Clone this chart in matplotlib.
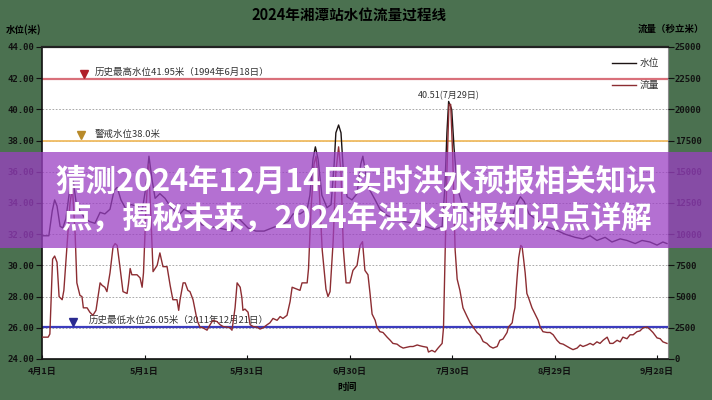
import matplotlib
matplotlib.use("Agg")
import matplotlib.pyplot as plt
from matplotlib.patches import Rectangle
from matplotlib.lines import Line2D

CJK = ["Noto Sans CJK SC", "DejaVu Sans"]
plt.rcParams["font.family"] = CJK

# ---- data: days counted from 4月1日 ----
level_days = [0, 2, 3.0, 3.7, 4.4, 5.3, 6.1, 7.0, 8.2, 9.1,
              10.0, 11.1, 12.6, 14.0, 15.5, 17.0, 18.4, 19.9, 21.1, 22.0,
              23.1, 24.6, 26.0, 27.8, 29.3, 30.4, 31.3, 32.2, 33.1, 34.5,
              36.0, 37.5, 39.2, 40.4, 41.6, 43.3, 45.1, 46.8, 49.2, 51.5,
              53.9, 55.6, 57.1, 58.5, 60.3, 62.6, 65.0, 67.3, 69.7, 72.0,
              73.5, 75.5, 77.6, 78.4, 79.3, 80.0, 80.8, 81.9, 83.4, 84.6,
              85.5, 86.0, 86.8, 87.5, 88.2, 89.3, 90.7, 92.2, 93.3, 93.9,
              94.8, 96.0, 97.5, 98.9, 101.0, 103.3, 106.2, 109.2, 112.1, 115.0,
              117.1, 117.9, 118.5, 119.0, 119.9, 120.6, 121.5, 122.9, 125.3, 128.2,
              131.1, 134.0, 136.4, 137.8, 139.0, 140.0, 141.1, 142.5, 144.3, 147.2,
              150.1, 153.1, 156.0, 158.3, 160.4, 162.4, 164.8, 166.8, 169.2, 171.2,
              173.6, 175.6, 177.9, 180.0, 181.7, 182.9]
level_values = [31.9, 31.9, 33.5, 34.2, 33.8, 32.5, 32.4, 33.0, 35.0, 35.5,
                34.0, 33.5, 33.0, 32.8, 32.7, 33.4, 33.3, 33.6, 34.8, 35.0,
                34.2, 33.6, 33.9, 33.8, 33.5, 35.0, 37.0, 35.5, 34.3, 34.6,
                34.3, 33.8, 33.4, 33.3, 33.6, 33.4, 33.0, 32.6, 32.5, 32.4,
                32.3, 32.2, 33.1, 32.8, 32.4, 32.2, 32.2, 32.4, 32.6, 32.8,
                33.3, 33.3, 33.6, 34.5, 36.8, 37.6, 36.8, 34.5, 33.7, 33.9,
                36.5, 38.5, 39.0, 38.5, 36.0, 34.4, 34.2, 34.6, 36.5, 37.0,
                35.8, 34.8, 34.2, 33.6, 33.2, 33.0, 32.8, 32.7, 32.5, 32.3,
                32.5, 35.0, 38.5, 40.51, 40.0, 37.5, 35.0, 34.0, 33.4, 33.0,
                32.8, 32.7, 32.8, 33.2, 34.0, 34.4, 34.1, 33.3, 33.0, 32.5,
                32.3, 32.0, 31.8, 31.7, 31.9, 31.6, 31.8, 31.5, 31.7, 31.6,
                31.4, 31.6, 31.5, 31.3, 31.5, 31.4]

flow_days = [0, 1.8, 2.3, 3.1, 3.7, 4.4, 5.0, 5.9, 6.4, 7.3,
             8.2, 8.9, 9.7, 10.2, 11.1, 11.7, 12.1, 13.2, 14.0, 14.9,
             15.8, 17.0, 17.6, 18.4, 19.0, 19.9, 20.8, 21.4, 22.0, 22.8,
             23.7, 24.9, 25.3, 25.8, 26.3, 27.8, 28.7, 29.3, 29.7, 30.4,
             31.2, 31.9, 32.5, 33.1, 33.7, 34.5, 35.4, 36.6, 37.5, 38.3,
             39.5, 40.0, 40.4, 41.3, 41.9, 42.7, 43.3, 44.2, 45.4, 46.2,
             47.1, 48.3, 49.2, 50.0, 51.2, 52.1, 53.0, 54.1, 55.0, 55.6,
             56.5, 57.1, 58.0, 58.5, 58.8, 59.4, 60.3, 60.9, 61.8, 62.9,
             63.8, 64.7, 65.9, 66.7, 67.6, 68.8, 69.7, 70.5, 71.7, 72.6,
             73.2, 74.6, 75.5, 76.1, 77.6, 78.0, 78.7, 79.6, 80.2, 81.1,
             82.0, 83.1, 83.7, 84.3, 85.2, 86.0, 86.8, 87.5, 88.2, 89.0,
             90.1, 91.0, 92.2, 93.1, 93.8, 94.5, 95.4, 96.0, 96.6, 97.5,
             98.0, 98.9, 99.8, 101.0, 101.9, 102.7, 103.9, 104.8, 105.7, 106.8,
             107.7, 108.6, 109.8, 110.6, 111.5, 112.7, 113.1, 114.1, 115.0, 115.9,
             117.1, 117.5, 117.9, 118.5, 119.1, 119.6, 120.2, 120.9, 121.5, 122.3,
             123.2, 124.4, 125.3, 126.1, 127.3, 128.2, 129.1, 130.2, 131.1, 132.0,
             133.2, 134.0, 134.9, 136.1, 136.5, 137.6, 138.0, 138.4, 139.0, 139.5,
             140.1, 140.5, 140.9, 141.4, 141.9, 142.4, 143.4, 144.3, 145.2, 145.8,
             146.6, 147.8, 148.7, 149.6, 150.7, 151.6, 152.5, 153.7, 154.5, 155.4,
             156.6, 157.5, 158.3, 159.5, 160.4, 161.3, 162.4, 163.3, 164.2, 165.4,
             166.2, 167.1, 168.3, 169.2, 170.0, 171.2, 172.1, 173.0, 174.1, 175.0,
             175.9, 177.1, 177.9, 178.8, 180.0, 180.9, 181.7, 182.9]
flow_values = [1750, 1750, 2000, 8000, 8250, 7750, 5000, 4750, 5500, 9000,
               12500, 13750, 10000, 6100, 5100, 5000, 4100, 4100, 3750, 3500,
               3900, 6100, 5900, 5750, 5400, 6900, 9000, 9250, 9100, 7400,
               5400, 5250, 6000, 7250, 6750, 6750, 6500, 5750, 6900, 11900,
               15600, 11250, 7000, 7250, 7500, 8500, 7400, 7400, 5900, 4750,
               4750, 3900, 4750, 6100, 6100, 5500, 5400, 4750, 3100, 2560,
               2500, 2310, 2750, 3100, 3000, 2750, 2600, 2560, 2500, 2310,
               4100, 6100, 5750, 4900, 3900, 4000, 3750, 2750, 2600, 2560,
               2400, 2500, 2750, 2900, 3250, 3100, 3400, 3250, 3500, 4600,
               5750, 5600, 5500, 6100, 6100, 7250, 11900, 15600, 16250, 13750,
               8750, 5600, 5000, 5400, 9400, 15000, 17000, 15000, 8750, 6100,
               6100, 7100, 7500, 9100, 9400, 7100, 6750, 5250, 3600, 3100,
               2560, 2190, 2125, 1750, 1500, 1250, 1190, 1000, 875, 940,
               1000, 1000, 1125, 1060, 1000, 940, 560, 690, 560, 875,
               1250, 2500, 7500, 15000, 20400, 20400, 16250, 8750, 6400, 5500,
               4100, 3400, 2900, 2600, 2125, 1900, 1400, 1250, 1000, 875,
               1000, 1500, 1600, 2125, 2560, 2900, 3600, 4100, 6400, 8100,
               9100, 9000, 8100, 6900, 5250, 4900, 4100, 3600, 3100, 2560,
               2190, 2125, 2125, 1940, 1500, 1250, 1190, 1000, 875, 750,
               875, 1125, 1000, 1125, 1250, 1125, 1375, 1250, 1500, 1750,
               1250, 1250, 1500, 1375, 1750, 1625, 1940, 1940, 2190, 2250,
               2500, 2560, 2375, 2125, 1690, 1625, 1375, 1250]

x_ticks = [0, 30, 60, 90, 120, 150, 180]
x_tick_labels = ["4月1日", "5月1日", "5月31日", "6月30日", "7月30日", "8月29日", "9月28日"]
level_ticks = [24, 26, 28, 30, 32, 34, 36, 38, 40, 42, 44]
flow_ticks = [0, 2500, 5000, 7500, 10000, 12500, 15000, 17500, 20000, 22500, 25000]

record_high = 41.95
warning_level = 38.0
record_low = 26.05
peak_day, peak_level = 119.0, 40.51

title = "2024年湘潭站水位流量过程线"
banner_lines = ["猜测2024年12月14日实时洪水预报相关知识",
                "点，揭秘未来，2024年洪水预报知识点详解"]

# ---- figure ----
W, H = 712, 400
BG = "#4b7150"
fig = plt.figure(figsize=(W / 100, H / 100), dpi=100, facecolor=BG)


def fx(px):
    return px / W


def fy(py):
    return 1 - py / H


ax = fig.add_axes([fx(42), fy(359), (668 - 42) / W, (359 - 47) / H])
ax.set_facecolor("white")
ax.set_xlim(0, 183.2)
ax.set_ylim(24, 44)

ax.set_yticks(level_ticks)
ax.set_yticklabels([f"{v:.2f}" for v in level_ticks],
                   family="DejaVu Sans Mono", fontweight="bold", fontsize=6.5)
ax.set_xticks(x_ticks)
ax.set_xticklabels(x_tick_labels, fontweight="bold", fontsize=6.5)
ax.tick_params(axis="y", direction="out", length=4, width=0.8, pad=1.5, colors="#111")
ax.tick_params(axis="x", direction="in", length=3, width=0.8, pad=6, colors="#111")
ax.grid(axis="y", color="#9a9a9a", linestyle=(0, (2, 2)), linewidth=0.6)
ax.set_axisbelow(True)

for side, col, lw in [("top", "#222222", 1.6), ("left", "#111111", 1.2),
                      ("bottom", "#111111", 1.2), ("right", "#8a8a8a", 0.8)]:
    ax.spines[side].set_color(col)
    ax.spines[side].set_linewidth(lw)

# reference levels
ax.axhline(record_high, color="#d9707a", lw=1.6, zorder=2)
ax.axhline(warning_level, color="#f0bc62", lw=1.3, zorder=2)
ax.axhline(record_low, color="#3c3cbe", lw=1.6, zorder=2)

note_kw = dict(fontsize=6.8, color="#333333", va="center", zorder=1)
ax.plot([12.3], [record_high + 0.3], marker="v", ms=6, color="#b0202a", zorder=3)
ax.text(15.5, record_high + 0.4, f"历史最高水位{record_high}米（1994年6月18日）", **note_kw)
ax.plot([11.4], [warning_level + 0.36], marker="v", ms=6, color="#b88a2a", zorder=3)
ax.text(15.5, warning_level + 0.38, f"警戒水位{warning_level:.1f}米", **note_kw)
ax.plot([9.1], [record_low + 0.32], marker="v", ms=6, color="#2a2a90", zorder=3)
ax.text(13.8, record_low + 0.45, f"历史最低水位{record_low}米（2011年12月21日）", **note_kw)

ax.text(peak_day, peak_level + 0.35, f"{peak_level}(7月29日)", ha="center",
        va="center", fontsize=6.5, color="#333333", zorder=1)

# water level
ax.plot(level_days, level_values, color="#1c1414", lw=1.0, zorder=4)

# discharge on the right axis
ax2 = ax.twinx()
ax2.set_ylim(0, 25000)
ax2.set_yticks(flow_ticks)
ax2.set_yticklabels([str(v) for v in flow_ticks],
                    family="DejaVu Sans Mono", fontweight="bold", fontsize=6.5)
ax2.tick_params(axis="y", direction="out", length=4, width=0.8, pad=1, colors="#111")
for s in ax2.spines.values():
    s.set_visible(False)
ax2.plot(flow_days, flow_values, color="#8c2d32", lw=1.0, zorder=5)

# legend
for py, col, lab in [(63, "#1c1414", "水位"), (85, "#8c2d32", "流量")]:
    fig.add_artist(Line2D([fx(612), fx(636)], [fy(py), fy(py)], color=col, lw=1.0,
                          transform=fig.transFigure))
    fig.text(fx(640), fy(py), lab, fontsize=7, color="#333333", va="center")

# titles and axis captions
fig.text(fx(349), fy(16), title, ha="center", va="center", fontsize=10.5,
         fontweight="heavy", color="black")
fig.text(fx(24), fy(30), "水位(米)", ha="center", va="center", fontsize=6.8,
         fontweight="bold", color="black")
fig.text(fx(671), fy(29), "流量（秒立米）", ha="center", va="center", fontsize=6.8,
         fontweight="bold", color="black")
fig.text(fx(347), fy(387), "时间", ha="center", va="center", fontsize=7,
         fontweight="bold", color="black")

# headline banner across the chart
fig.add_artist(Rectangle((0, fy(248)), 1, (248 - 152) / H, transform=fig.transFigure,
                         facecolor="#9b40c3", alpha=0.75, edgecolor="none", zorder=10))
for py, line in zip([182, 219], banner_lines):
    fig.text(fx(356), fy(py), line, ha="center", va="center", fontsize=22,
             fontweight="bold", color="white", zorder=11)

fig.savefig("out.png", dpi=100, facecolor=BG)
